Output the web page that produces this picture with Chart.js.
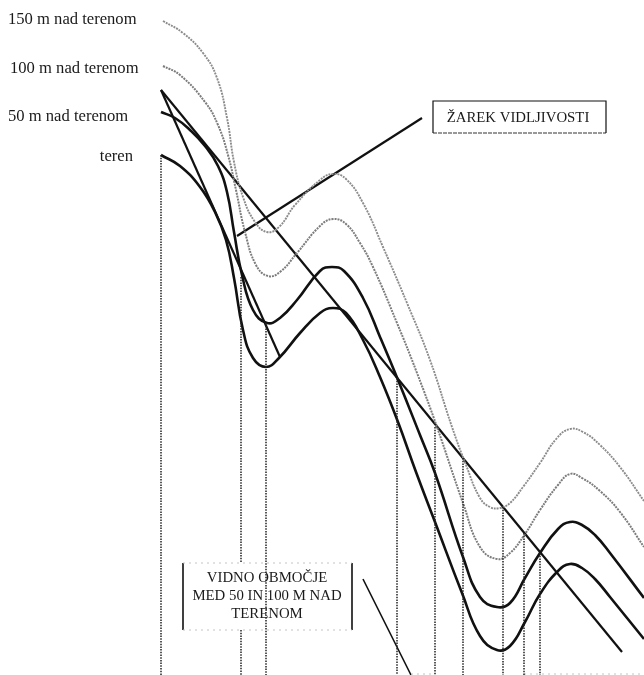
<!DOCTYPE html>
<html>
<head>
<meta charset="utf-8">
<title>Žarek vidljivosti</title>
<script src="https://cdn.jsdelivr.net/npm/chart.js@4/dist/chart.umd.min.js"></script>
<style>
  html, body { margin: 0; padding: 0; background: #fff; }
  canvas { display: block; }
</style>
</head>
<body>
<canvas id="profile" width="644" height="675"></canvas>
<script>
// profile curves (x along the section, y downwards)
const terenX = [161, 180, 200, 215, 226, 234, 243, 253, 266, 279, 300, 320, 333, 346, 363, 380, 398, 416, 435, 462, 480, 497, 510, 525, 540, 558, 570, 582, 595, 610, 644];
const terenY = [155, 166, 187, 212, 240, 278, 330, 358, 367, 358, 333, 313, 308, 313, 340, 377, 422, 472, 522, 593, 636, 650, 646, 622, 594, 571, 564, 568, 579, 597, 639];

const m50X = [161, 175, 190, 205, 218, 227, 234, 242, 253, 267, 280, 297, 320, 332, 344, 363, 380, 398, 420, 435, 463, 480, 497, 510, 525, 540, 558, 570, 582, 595, 610, 644];
const m50Y = [112, 118, 130, 146, 166, 192, 232, 275, 310, 323, 318, 300, 271, 267, 271, 298, 337, 380, 435, 473, 557, 597, 607, 603, 578, 553, 529, 522, 525, 535, 553, 598];

const m100X = [163, 180, 205, 218, 228, 236, 245, 256, 268, 280, 297, 320, 333, 346, 360, 373, 397, 417, 437, 463, 480, 497, 510, 525, 540, 558, 570, 582, 600, 620, 644];
const m100Y = [66, 75, 102, 125, 155, 190, 232, 265, 276, 272, 253, 226, 219, 224, 243, 267, 323, 373, 427, 503, 547, 559, 553, 534, 510, 485, 474, 478, 491, 512, 547];

const m150X = [163, 183, 203, 217, 227, 234, 243, 255, 267, 279, 295, 320, 333, 346, 363, 383, 407, 430, 452, 466, 480, 490, 500, 510, 523, 540, 557, 570, 583, 600, 620, 644];
const m150Y = [21, 33, 53, 78, 118, 162, 197, 222, 232, 227, 205, 180, 174, 179, 203, 247, 303, 360, 427, 465, 498, 507, 508, 503, 487, 463, 438, 429, 432, 445, 467, 501];

// sight rays from the observer
const rayLongX = [161, 622];
const rayLongY = [90, 652];
const rayShortX = [161, 280];
const rayShortY = [90, 357];

// dotted drops to the base of the section
const dropX = [161, 241, 241, 266, 397, 435, 463, 503, 524, 540];
const dropTop = [155, 277, 630, 323, 378, 427, 458, 507, 533, 553];
const dropEnd = [675, 563, 675, 675, 675, 675, 675, 675, 675, 675];

// leader lines and label frames
const leaderRayX = [237, 422];
const leaderRayY = [236, 118];
const leaderZoneX = [363, 411];
const leaderZoneY = [579, 675];
const rayBoxX = [433, 433, 606, 606];
const rayBoxY = [133, 101, 101, 133];
const rayBoxBaseX = [433, 606];
const rayBoxBaseY = [133, 133];
const zoneBarLeftX = [183, 183];
const zoneBarRightX = [352, 352];
const zoneBarY = [563, 630];
const zoneEdgeX = [183, 352];
const zoneEdgeTopY = [563, 563];
const zoneEdgeBaseY = [630, 630];
const baseX = [411, 435, 524, 644];
const baseY = [674, 674, 674, 674];

const curveLabels = ["150 m nad terenom", "100 m nad terenom", "50 m nad terenom", "teren"];
const rayLabel = "ŽAREK VIDLJIVOSTI";
const zoneLabels = ["VIDNO OBMOČJE", "MED 50 IN 100 M NAD", "TERENOM"];

const pairs = (xs, ys) => xs.map((x, i) => ({ x: x, y: ys[i] }));

const solid = (xs, ys, width) => ({
  data: pairs(xs, ys), borderColor: "#111", borderWidth: width, pointRadius: 0, tension: 0
});
const curve = (xs, ys, color, width, dash) => ({
  data: pairs(xs, ys), borderColor: color, borderWidth: width, borderDash: dash,
  pointRadius: 0, tension: 0.45
});
const faint = (xs, ys) => ({
  data: pairs(xs, ys), borderColor: "#c4c4c4", borderWidth: 1, borderDash: [2, 4], pointRadius: 0
});

const drops = dropX.map((x, i) => ({
  data: [{ x: x, y: dropTop[i] }, { x: x, y: dropEnd[i] }],
  borderColor: "#222", borderWidth: 1.5, borderDash: [1.5, 1.2], pointRadius: 0
}));

// text goes on top of the marks, placed through the scales
const textPlugin = {
  id: "textPlugin",
  afterDatasetsDraw(chart) {
    const c = chart.ctx, sx = chart.scales.x, sy = chart.scales.y;
    const put = (t, x, y, size, align) => {
      c.font = size + 'px "Liberation Serif"';
      c.textAlign = align;
      c.textBaseline = "middle";
      c.fillStyle = "#1a1a1a";
      c.fillText(t, sx.getPixelForValue(x), sy.getPixelForValue(y));
    };
    put(curveLabels[0], 8, 19.5, 16.6, "left");
    put(curveLabels[1], 10, 69, 16.6, "left");
    put(curveLabels[2], 8, 116.5, 16.6, "left");
    put(curveLabels[3], 133, 156.5, 16.6, "right");
    put(rayLabel, 518, 118, 14.8, "center");
    put(zoneLabels[0], 267, 578, 14.8, "center");
    put(zoneLabels[1], 267, 596, 14.8, "center");
    put(zoneLabels[2], 267, 614, 14.8, "center");
  }
};

new Chart(document.getElementById("profile"), {
  type: "line",
  data: {
    datasets: [
      ...drops,
      faint(baseX.slice(0, 2), baseY.slice(0, 2)),
      faint(baseX.slice(2), baseY.slice(2)),
      faint(zoneEdgeX, zoneEdgeTopY),
      faint(zoneEdgeX, zoneEdgeBaseY),
      curve(m150X, m150Y, "#8c8c8c", 1.9, [2, 1]),
      curve(m100X, m100Y, "#7c7c7c", 2, [2, 1]),
      curve(m50X, m50Y, "#111", 2.6, []),
      curve(terenX, terenY, "#111", 2.6, []),
      solid(rayLongX, rayLongY, 2.2),
      solid(rayShortX, rayShortY, 2.2),
      solid(leaderRayX, leaderRayY, 2.2),
      solid(leaderZoneX, leaderZoneY, 1.6),
      solid(rayBoxX, rayBoxY, 1.2),
      { data: pairs(rayBoxBaseX, rayBoxBaseY), borderColor: "#333", borderWidth: 1, borderDash: [4, 1], pointRadius: 0 },
      solid(zoneBarLeftX, zoneBarY, 1.6),
      solid(zoneBarRightX, zoneBarY, 1.6)
    ]
  },
  options: {
    responsive: false,
    animation: false,
    layout: { padding: 0 },
    plugins: {
      legend: { display: false },
      tooltip: { enabled: false }
    },
    scales: {
      x: { type: "linear", min: 0, max: 644, display: false },
      y: { type: "linear", min: 0, max: 675, reverse: true, display: false }
    }
  },
  plugins: [textPlugin]
});
</script>
</body>
</html>
